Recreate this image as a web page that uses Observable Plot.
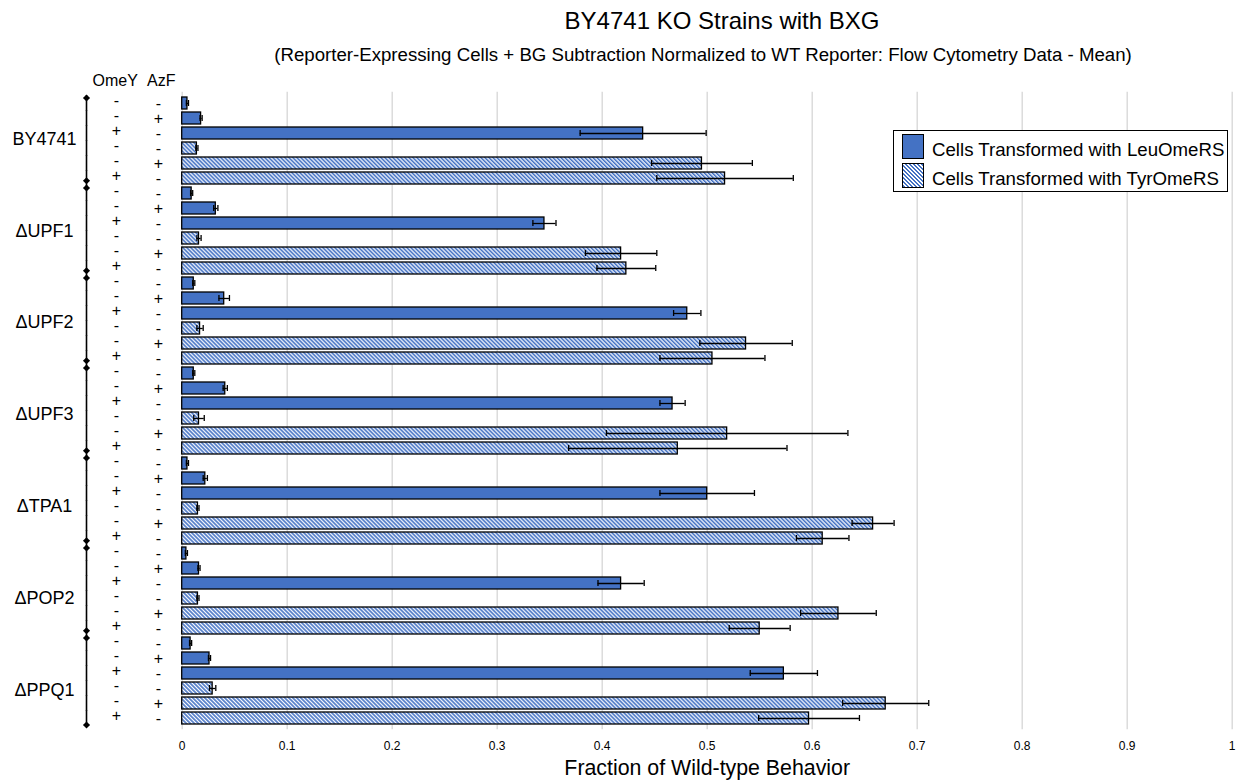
<!DOCTYPE html>
<html>
<head>
<meta charset="utf-8">
<script src="https://cdn.jsdelivr.net/npm/d3@7"></script>
<script src="https://cdn.jsdelivr.net/npm/@observablehq/plot@0.6"></script>
<style>
  body { margin: 0; background: #fff; font-family: "Liberation Sans", Arial, sans-serif; color: #000; }
  #wrap { position: relative; width: 1236px; height: 780px; overflow: hidden; }
  #title { position: absolute; top: 9px; left: 722px; transform: translateX(-50%); font-size: 24px; line-height: 24px; white-space: nowrap; }
  #subtitle { position: absolute; top: 46px; left: 703px; transform: translateX(-50%); font-size: 18.67px; line-height: 18.67px; white-space: nowrap; }
  #chart { position: absolute; top: 70px; left: 0; }
  #legend { position: absolute; left: 893px; top: 130px; width: 333px; height: 60px; border: 1px solid #000; background: #fff; }
  .sw { position: absolute; left: 8px; width: 20px; height: 23px; border: 1px solid #000; }
  .lt { position: absolute; left: 38px; font-size: 18.67px; line-height: 18.67px; white-space: nowrap; }
</style>
</head>
<body>
<div id="wrap">
  <div id="title">BY4741 KO Strains with BXG</div>
  <div id="subtitle">(Reporter-Expressing Cells + BG Subtraction Normalized to WT Reporter: Flow Cytometry Data - Mean)</div>
  <div id="chart"></div>
  <div id="legend">
    <div class="sw" style="top:3px;background:#4472C4;"></div>
    <div class="lt" style="top:10px;">Cells Transformed with LeuOmeRS</div>
    <div class="sw" style="top:32px;background:repeating-linear-gradient(45deg,#4472C4 0 1.6px,#fff 1.6px 2.83px);"></div>
    <div class="lt" style="top:39px;">Cells Transformed with TyrOmeRS</div>
  </div>
</div>
<script>
// ---- data ----
const strains = ["BY4741", "ΔUPF1", "ΔUPF2", "ΔUPF3", "ΔTPA1", "ΔPOP2", "ΔPPQ1"];
const omeY = ["-", "-", "+", "-", "-", "+"];
const azF  = ["-", "+", "-", "-", "+", "-"];
const enzymes = ["LeuOmeRS", "LeuOmeRS", "LeuOmeRS", "TyrOmeRS", "TyrOmeRS", "TyrOmeRS"];

const meanBY4741 = [0.005, 0.018, 0.439, 0.014, 0.495, 0.517];
const errBY4741  = [0.001, 0.001, 0.060, 0.001, 0.048, 0.065];
const meanUPF1 = [0.009, 0.032, 0.345, 0.016, 0.418, 0.423];
const errUPF1  = [0.001, 0.002, 0.011, 0.002, 0.034, 0.028];
const meanUPF2 = [0.011, 0.040, 0.481, 0.017, 0.537, 0.505];
const errUPF2  = [0.001, 0.005, 0.013, 0.003, 0.044, 0.050];
const meanUPF3 = [0.011, 0.041, 0.467, 0.016, 0.519, 0.472];
const errUPF3  = [0.001, 0.002, 0.012, 0.005, 0.115, 0.104];
const meanTPA1 = [0.005, 0.022, 0.500, 0.015, 0.658, 0.610];
const errTPA1  = [0.001, 0.002, 0.045, 0.001, 0.020, 0.025];
const meanPOP2 = [0.004, 0.016, 0.418, 0.015, 0.625, 0.550];
const errPOP2  = [0.001, 0.001, 0.022, 0.001, 0.036, 0.029];
const meanPPQ1 = [0.008, 0.026, 0.573, 0.029, 0.670, 0.597];
const errPPQ1  = [0.001, 0.001, 0.032, 0.003, 0.041, 0.048];

const xTicks = [0, 0.1, 0.2, 0.3, 0.4, 0.5, 0.6, 0.7, 0.8, 0.9, 1];
const xTitle = "Fraction of Wild-type Behavior";

// ---- table ----
const meanList = [meanBY4741, meanUPF1, meanUPF2, meanUPF3, meanTPA1, meanPOP2, meanPPQ1];
const errList = [errBY4741, errUPF1, errUPF2, errUPF3, errTPA1, errPOP2, errPPQ1];
const rows = [];
strains.forEach((s, si) => {
  omeY.forEach((o, ci) => {
    rows.push({strain: s, idx: ci, key: s + "|" + ci, omey: o, azf: azF[ci], enzyme: enzymes[ci],
      mean: meanList[si][ci], err: errList[si][ci]});
  });
});
const keys = rows.map(d => d.key);
const leuRows = rows.filter(d => d.enzyme === "LeuOmeRS");
const tyrRows = rows.filter(d => d.enzyme === "TyrOmeRS");
const firstRows = rows.filter(d => d.idx === 0);
const lastRows = rows.filter(d => d.idx === 5);
const innerLast = lastRows.slice(0, -1);
const finalLast = lastRows.slice(-1);
const labelRows = rows.filter(d => d.idx === 2);

const left0 = 181.7;
const zero = () => 0;

const chart = Plot.plot({
  width: 1236,
  height: 710,
  marginLeft: left0,
  marginRight: 4.3,
  marginTop: 21.7,
  marginBottom: 50.7,
  style: {fontFamily: "'Liberation Sans', Arial, sans-serif", fontSize: "12px", color: "#000", background: "transparent"},
  x: {domain: [0, 1], ticks: xTicks, tickFormat: d => String(d), tickSize: 0, tickPadding: 12, label: null},
  y: {type: "band", domain: keys, paddingInner: 0.22, paddingOuter: 0.11, axis: null},
  marks: [
    Plot.ruleX(xTicks, {stroke: "#d9d9d9", strokeWidth: 1.4}),
    Plot.barX(leuRows, {x: "mean", y: "key", fill: "#4472C4", stroke: "#000", strokeWidth: 1.3}),
    Plot.barX(tyrRows, {x: "mean", y: "key", fill: "url(#hatch)", stroke: "#000", strokeWidth: 1.3}),
    Plot.ruleY(rows, {x1: d => d.mean - d.err, x2: d => d.mean + d.err, y: "key", stroke: "#000", strokeWidth: 1.3}),
    Plot.tickX(rows, {x: d => d.mean - d.err, y: "key", stroke: "#000", strokeWidth: 1.3, insetTop: 3, insetBottom: 3}),
    Plot.tickX(rows, {x: d => d.mean + d.err, y: "key", stroke: "#000", strokeWidth: 1.3, insetTop: 3, insetBottom: 3}),
    // x title
    Plot.text([xTitle], {frameAnchor: "bottom", lineAnchor: "middle", dy: 38.5, text: d => d, fontSize: 21.33, fill: "#000"}),
    // left category annotations
    Plot.text(["OmeY"], {frameAnchor: "top-left", textAnchor: "middle", lineAnchor: "middle", dx: 114.7 - left0, dy: -11, text: d => d, fontSize: 16, fill: "#000"}),
    Plot.text(["AzF"], {frameAnchor: "top-left", textAnchor: "middle", lineAnchor: "middle", dx: 160.8 - left0, dy: -11, text: d => d, fontSize: 16, fill: "#000"}),
    Plot.text(rows, {x: zero, y: "key", text: "omey", dx: 116 - left0, dy: -2.5, fontSize: 16, fill: "#000"}),
    Plot.text(rows, {x: zero, y: "key", text: "azf", dx: 158 - left0, dy: 0.5, fontSize: 16, fill: "#000"}),
    Plot.tickX(rows, {x: zero, y: "key", dx: 86 - left0, stroke: "#000", strokeWidth: 1.6, insetTop: -1.8, insetBottom: -1.8}),
    Plot.dot(firstRows, {x: zero, y: "key", dx: 86 - left0, dy: -5.5, symbol: "diamond2", r: 3.2, fill: "#000", stroke: "none"}),
    Plot.dot(innerLast, {x: zero, y: "key", dx: 86 - left0, dy: 2.2, symbol: "diamond2", r: 3.2, fill: "#000", stroke: "none"}),
    Plot.dot(finalLast, {x: zero, y: "key", dx: 86 - left0, dy: 6.5, symbol: "diamond2", r: 3.2, fill: "#000", stroke: "none"}),
    // strain labels (Excel places them with a slight downward drift)
    ...labelRows.map((d, k) => Plot.text([d], {x: zero, y: "key", text: "strain", dx: 44 - left0, dy: 5.5 + 1.8 * k, fontSize: 18, fill: "#000"}))
  ]
});

const svg = chart.tagName.toLowerCase() === "svg" ? chart : chart.querySelector("svg");
const ns = "http://www.w3.org/2000/svg";
const defs = document.createElementNS(ns, "defs");
defs.innerHTML = '<pattern id="hatch" patternUnits="userSpaceOnUse" width="2.83" height="2.83" patternTransform="rotate(-45)">' +
  '<rect width="2.83" height="2.83" fill="#ffffff"/><rect width="1.6" height="2.83" fill="#4472C4"/></pattern>';
svg.insertBefore(defs, svg.firstChild);
document.getElementById("chart").appendChild(chart);
</script>
</body>
</html>
